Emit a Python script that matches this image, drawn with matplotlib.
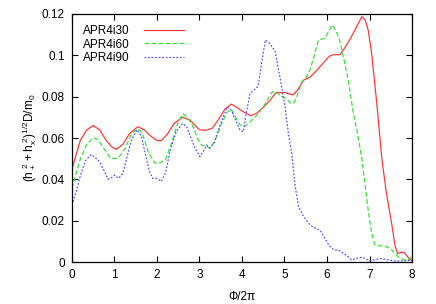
import matplotlib
matplotlib.use('Agg')
import matplotlib.pyplot as plt
import numpy as np

plt.rcParams['font.family'] = ['Liberation Sans', 'DejaVu Sans']
plt.rcParams['mathtext.fontset'] = 'custom'
plt.rcParams['mathtext.rm'] = 'Liberation Sans'

# phase (Phi/2pi) and amplitude values
phi30 = [0.0, 0.1, 0.2, 0.35, 0.5, 0.65, 0.8, 0.95, 1.05, 1.2, 1.35, 1.55, 1.7, 1.85,
         2.0, 2.1, 2.25, 2.4, 2.6, 2.78, 2.9, 3.0, 3.15, 3.3, 3.45, 3.6, 3.75, 3.9,
         4.05, 4.2, 4.35, 4.5, 4.65, 4.8, 5.0, 5.1, 5.2, 5.3, 5.45, 5.6, 5.75, 5.9,
         6.05, 6.15, 6.3, 6.4, 6.55, 6.7, 6.82, 6.9, 6.97, 7.05, 7.17, 7.29, 7.4,
         7.52, 7.6, 7.66, 7.75, 7.82, 7.9, 8.0]
amp30 = [0.045, 0.052, 0.059, 0.064, 0.066, 0.064, 0.059, 0.0555, 0.0545, 0.057, 0.062,
         0.0655, 0.064, 0.061, 0.0588, 0.0587, 0.062, 0.067, 0.070, 0.0687, 0.066, 0.064,
         0.0637, 0.0647, 0.069, 0.074, 0.0764, 0.0745, 0.0725, 0.0708, 0.072, 0.0748,
         0.078, 0.0819, 0.082, 0.0815, 0.0808, 0.083, 0.088, 0.0895, 0.0925, 0.096,
         0.0995, 0.1003, 0.1003, 0.103, 0.108, 0.114, 0.1187, 0.117, 0.112, 0.101,
         0.077, 0.050, 0.033, 0.0187, 0.008, 0.004, 0.0048, 0.0045, 0.0025, 0.0005]

phi60 = [0.0, 0.1, 0.2, 0.35, 0.5, 0.6, 0.75, 0.9, 1.0, 1.1, 1.25, 1.4, 1.55, 1.65,
         1.8, 1.95, 2.05, 2.2, 2.35, 2.5, 2.62, 2.75, 2.85, 2.95, 3.05, 3.15, 3.25,
         3.35, 3.5, 3.65, 3.75, 3.85, 3.95, 4.05, 4.2, 4.35, 4.5, 4.6, 4.7, 4.78, 4.9,
         5.05, 5.15, 5.22, 5.3, 5.4, 5.5, 5.6, 5.7, 5.8, 5.95, 6.05, 6.12, 6.2, 6.3,
         6.4, 6.5, 6.62, 6.72, 6.82, 6.97, 7.05, 7.13, 7.25, 7.35, 7.5, 7.6, 7.72,
         7.85, 7.95, 8.0]
amp60 = [0.0355, 0.043, 0.050, 0.057, 0.060, 0.0595, 0.055, 0.0505, 0.050, 0.0505,
         0.055, 0.062, 0.0645, 0.0625, 0.053, 0.048, 0.0477, 0.0495, 0.058, 0.068,
         0.0718, 0.069, 0.0655, 0.060, 0.0565, 0.0562, 0.055, 0.058, 0.066, 0.0725,
         0.0738, 0.070, 0.0665, 0.0655, 0.068, 0.071, 0.075, 0.0785, 0.082, 0.0827,
         0.0805, 0.079, 0.0768, 0.077, 0.0805, 0.087, 0.089, 0.093, 0.100, 0.1074,
         0.1082, 0.112, 0.1147, 0.1125, 0.107, 0.098, 0.088, 0.072, 0.062, 0.050,
         0.025, 0.014, 0.0082, 0.0078, 0.0078, 0.0065, 0.004, 0.0018, 0.0008, 0.0015,
         0.003]

phi90 = [0.0, 0.1, 0.2, 0.32, 0.45, 0.55, 0.65, 0.75, 0.85, 0.95, 1.0, 1.1, 1.2, 1.3,
         1.4, 1.53, 1.63, 1.72, 1.82, 1.9, 2.0, 2.1, 2.2, 2.3, 2.45, 2.6, 2.7, 2.8,
         2.9, 3.01, 3.1, 3.17, 3.25, 3.35, 3.5, 3.65, 3.75, 3.85, 3.95, 4.03, 4.1,
         4.19, 4.3, 4.38, 4.46, 4.55, 4.65, 4.78, 4.89, 5.0, 5.1, 5.17, 5.25, 5.33,
         5.45, 5.6, 5.72, 5.84, 5.95, 6.05, 6.15, 6.3, 6.4, 6.5, 6.58, 6.7, 6.82,
         6.92, 7.0, 7.1, 7.25, 7.45, 7.6, 7.8, 8.0]
amp90 = [0.0275, 0.034, 0.042, 0.049, 0.052, 0.0505, 0.0485, 0.0445, 0.040, 0.041,
         0.042, 0.0405, 0.043, 0.051, 0.059, 0.064, 0.061, 0.053, 0.044, 0.0405,
         0.0405, 0.039, 0.043, 0.053, 0.063, 0.067, 0.0655, 0.060, 0.055, 0.051,
         0.054, 0.0566, 0.0552, 0.058, 0.067, 0.075, 0.0735, 0.0685, 0.064, 0.063,
         0.072, 0.0816, 0.0835, 0.085, 0.096, 0.1074, 0.1058, 0.102, 0.0897, 0.0768,
         0.061, 0.0526, 0.037, 0.0268, 0.022, 0.0179, 0.0165, 0.0152, 0.0115, 0.008,
         0.006, 0.0055, 0.004, 0.0025, 0.001, 0.0018, 0.0023, 0.0015, 0.0005, 0.001,
         0.0017, 0.001, 0.0005, 0.0005, 0.001]

fig = plt.figure(figsize=(4.36, 3.04), dpi=100)
ax = fig.add_axes([0.165, 0.138, 0.78, 0.816])

ax.plot(phi30, amp30, color='#ff3030', lw=0.85, label='APR4i30')
ax.plot(phi60, amp60, color='#30e030', lw=0.85, dashes=(4, 2), label='APR4i60')
ax.plot(phi90, amp90, color='#4848ff', lw=0.85, dashes=(1.5, 1.5), label='APR4i90')

ax.set_xlim(0, 8)
ax.set_ylim(0, 0.12)
ax.set_xticks(range(9))
ax.set_yticks([0, 0.02, 0.04, 0.06, 0.08, 0.1, 0.12])
ax.set_yticklabels(['0', '0.02', '0.04', '0.06', '0.08', '0.1', '0.12'])
ax.tick_params(direction='in', top=True, right=True, length=4, width=0.8,
               labelsize=8.5, pad=5)
for s in ax.spines.values():
    s.set_linewidth(0.9)

ax.set_xlabel('\u03a6/2\u03c0', fontsize=8.5, labelpad=7)
ax.set_ylabel(r'$\mathregular{(h_+^{\ 2}+h_x^{\ 2})^{1/2}D/m_0}$', fontsize=8.5, labelpad=2)

ax.legend(loc='upper left', frameon=False, markerfirst=False, fontsize=8.5,
          handlelength=3.4, handletextpad=1.2, labelspacing=0.12,
          borderaxespad=0.55, bbox_to_anchor=(0.0, 1.0))

fig.savefig('out.png', dpi=100)
